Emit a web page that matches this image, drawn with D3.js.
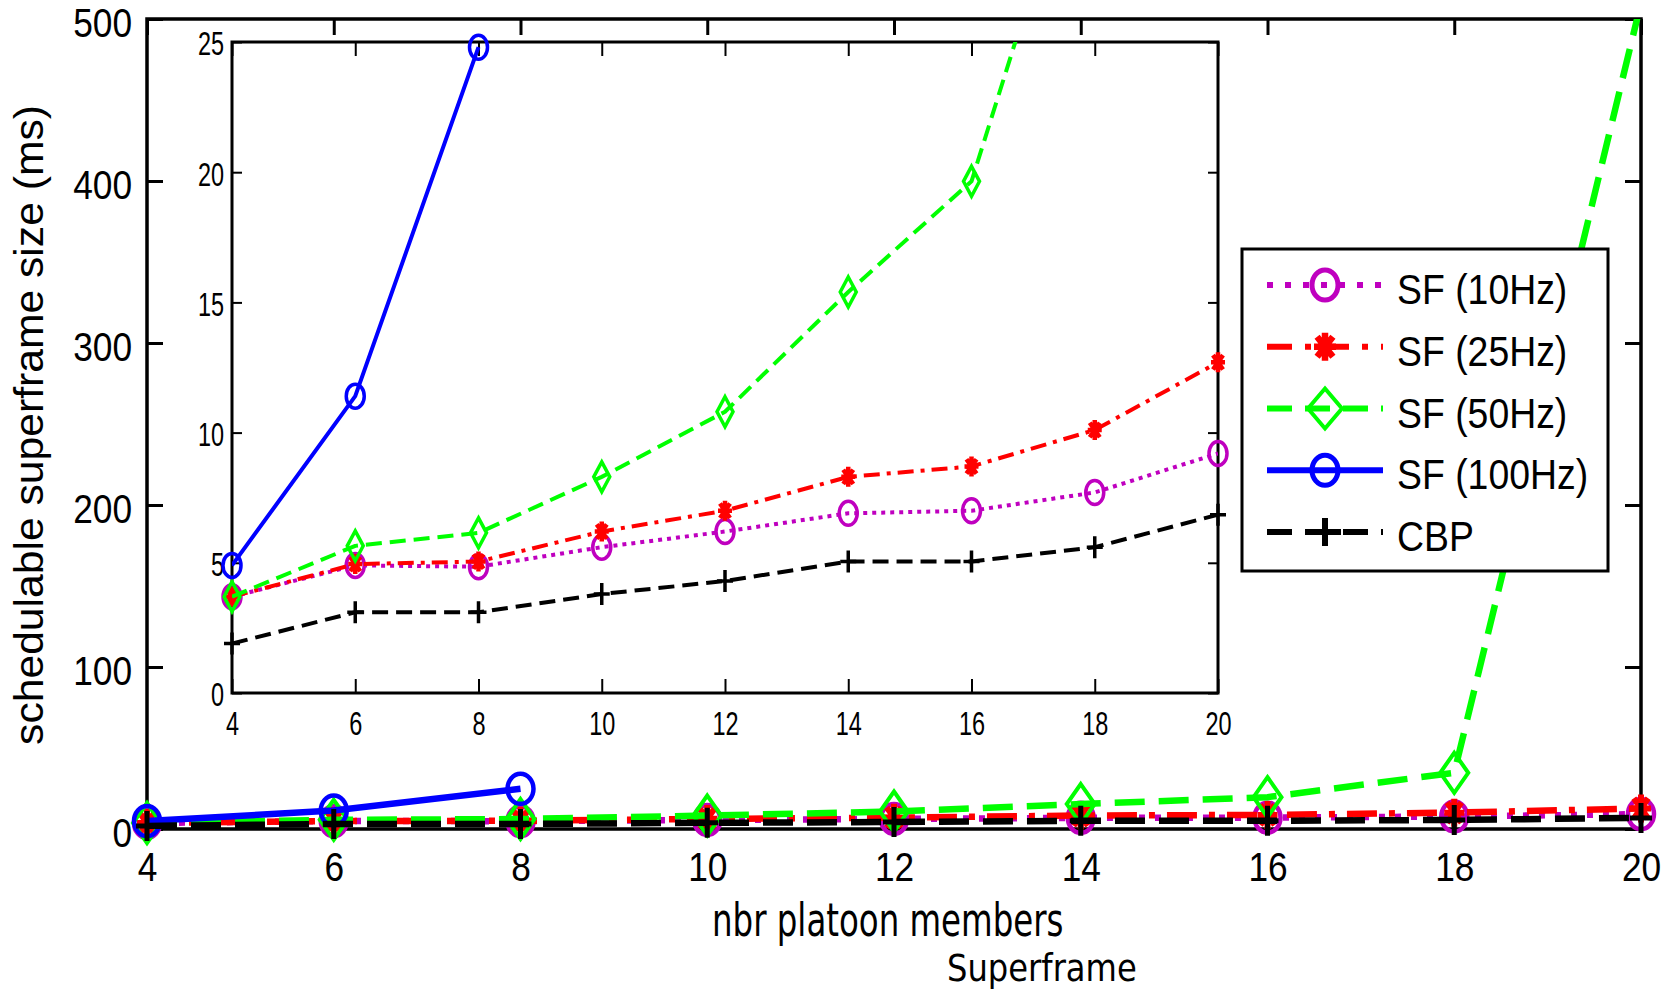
<!DOCTYPE html>
<html>
<head>
<meta charset="utf-8">
<script src="https://cdn.jsdelivr.net/npm/d3@7"></script>
<style>
  body { margin: 0; background: #fff; }
  svg { display: block; }
</style>
</head>
<body>
<div id="graph"></div>
<script>

//----------------------------------------------------------
// data (ms)

var g_members = [4, 6, 8, 10, 12, 14, 16, 18, 20];

var g_sf10  = [3.7, 4.9, 4.85, 5.6, 6.2, 6.9, 7.0, 7.7, 9.2];
var g_sf25  = [3.7, 4.95, 5.05, 6.2, 7.0, 8.3, 8.7, 10.1, 12.7];
var g_sf50  = [3.7, 5.65, 6.15, 8.3, 10.8, 15.4, 19.65, 34.7, 510];
var g_sf100 = [4.9, 11.4, 24.8];
var g_cbp   = [1.9, 3.1, 3.1, 3.8, 4.3, 5.05, 5.05, 5.6, 6.85];

var g_labels = ["SF (10Hz)", "SF (25Hz)", "SF (50Hz)", "SF (100Hz)", "CBP"];

var g_main_yticks = [0, 100, 200, 300, 400, 500];
var g_inset_yticks = [0, 5, 10, 15, 20, 25];
var g_xticks = [4, 6, 8, 10, 12, 14, 16, 18, 20];


//----------------------------------------------------------
// series styles: dashes for main plot, inset and legend

var g_series = [
    { values: g_sf10, colour: "#bf00bf", marker: "circle",
      dash: { main: "6,10", inset: "4,5", legend: "6,12" } },
    { values: g_sf25, colour: "#ff0000", marker: "star",
      dash: { main: "30,12,6,12", inset: "16,7,4,7", legend: "25,13,6,13" } },
    { values: g_sf50, colour: "#00ff00", marker: "diamond",
      dash: { main: "30,14", inset: "16,8", legend: "25,13" } },
    { values: g_sf100, colour: "#0000ff", marker: "circle",
      dash: { main: null, inset: null, legend: null } },
    { values: g_cbp, colour: "#000000", marker: "plus",
      dash: { main: "30,14", inset: "16,8", legend: "25,13" } }
];

var g_marker_size = {
    main:   { circle: [13, 15, 4.5], diamond: [14, 20, 4], plus: [11, 15, 5], star: [10, 14, 6] },
    inset:  { circle: [9, 12, 3.5], diamond: [8, 15, 3.5], plus: [8, 11, 3.5], star: [7, 10, 4.5] },
    legend: { circle: [13, 15, 5], diamond: [17, 20, 4], plus: [16, 14, 6], star: [11, 14, 6.5] }
};

var g_svg = d3.select("#graph")
  .append("svg")
    .attr("width", 1671)
    .attr("height", 991);

var g_defs = g_svg.append("defs");


//----------------------------------------------------------
function Squeeze(sel, factor) {
    sel.each(function () {
        var len = this.getComputedTextLength();
        d3.select(this)
            .attr("textLength", len * factor)
            .attr("lengthAdjust", "spacingAndGlyphs");
    });
}


function MarkerPath(kind, hw, hh) {
    if (kind === "diamond")
        return "M0," + (-hh) + "L" + hw + ",0L0," + hh + "L" + (-hw) + ",0Z";
    if (kind === "plus")
        return "M" + (-hw) + ",0H" + hw + "M0," + (-hh) + "V" + hh;
    // asterisk
    var dx = hw * 0.72, dy = hh * 0.72;
    return "M" + (-hw) + ",0H" + hw + "M0," + (-hh) + "V" + hh +
        "M" + (-dx) + "," + (-dy) + "L" + dx + "," + dy +
        "M" + (-dx) + "," + dy + "L" + dx + "," + (-dy);
}


function DrawMarker(g, kind, size, colour, x, y) {
    var s = size[kind];
    if (kind === "circle") {
        g.append("ellipse")
            .attr("cx", x).attr("cy", y)
            .attr("rx", s[0]).attr("ry", s[1])
            .attr("fill", "none")
            .attr("stroke", colour)
            .attr("stroke-width", s[2]);
    } else {
        g.append("path")
            .attr("transform", "translate(" + x + "," + y + ")")
            .attr("d", MarkerPath(kind, s[0], s[1]))
            .attr("fill", "none")
            .attr("stroke", colour)
            .attr("stroke-width", s[2])
            .attr("stroke-linejoin", "miter");
    }
}


//----------------------------------------------------------
// one set of axes (main figure or inset)

function DrawPlot(opt) {
    var x = d3.scaleLinear([4, 20], [opt.left, opt.right]);
    var y = d3.scaleLinear(opt.ydomain, [opt.bottom, opt.top]);
    var g = g_svg.append("g");

    if (opt.fill)
        g.append("rect")
            .attr("x", opt.left).attr("y", opt.top)
            .attr("width", opt.right - opt.left)
            .attr("height", opt.bottom - opt.top)
            .attr("fill", "#fff");

    g_defs.append("clipPath")
        .attr("id", opt.name + "-clip")
      .append("rect")
        .attr("x", opt.left).attr("y", opt.top)
        .attr("width", opt.right - opt.left)
        .attr("height", opt.bottom - opt.top);

    // axes with inward ticks on all four sides
    var ax = g.append("g")
        .attr("font-family", "'Liberation Sans', Arial, sans-serif");

    var left = ax.append("g")
        .attr("transform", "translate(" + opt.left + ",0)")
        .call(d3.axisLeft(y).tickValues(opt.yticks).tickSizeInner(-opt.ytick)
            .tickSizeOuter(0).tickPadding(opt.ypad).tickFormat(d3.format("d")));
    var bottom = ax.append("g")
        .attr("transform", "translate(0," + opt.bottom + ")")
        .call(d3.axisBottom(x).tickValues(g_xticks).tickSizeInner(-opt.xtick)
            .tickSizeOuter(0).tickPadding(opt.xpad).tickFormat(d3.format("d")));
    ax.append("g")
        .attr("transform", "translate(" + opt.right + ",0)")
        .call(d3.axisRight(y).tickValues(opt.yticks).tickSizeInner(-opt.ytick)
            .tickSizeOuter(0).tickFormat(""));
    ax.append("g")
        .attr("transform", "translate(0," + opt.top + ")")
        .call(d3.axisTop(x).tickValues(g_xticks).tickSizeInner(-opt.xtick)
            .tickSizeOuter(0).tickFormat(""));

    ax.selectAll(".domain").remove();
    ax.selectAll(".tick line")
        .attr("stroke", "#000")
        .attr("stroke-width", opt.tickw);
    ax.selectAll(".tick text")
        .attr("fill", "#000")
        .attr("font-size", opt.font);
    left.selectAll(".tick text")
        .attr("dy", opt.ydy);
    Squeeze(left.selectAll(".tick text"), opt.squeeze);
    Squeeze(bottom.selectAll(".tick text"), opt.squeeze);

    ax.append("rect")
        .attr("x", opt.left).attr("y", opt.top)
        .attr("width", opt.right - opt.left)
        .attr("height", opt.bottom - opt.top)
        .attr("fill", "none")
        .attr("stroke", "#000")
        .attr("stroke-width", opt.boxw);

    // series
    g_series.forEach(function (s) {
        var pts = s.values.map(function (v, i) {
            return { x: g_members[i], y: v };
        });

        g.append("path")
            .datum(pts)
            .attr("clip-path", "url(#" + opt.name + "-clip)")
            .attr("d", d3.line()
                .x(function (d) { return x(d.x); })
                .y(function (d) { return y(d.y); }))
            .attr("fill", "none")
            .attr("stroke", s.colour)
            .attr("stroke-width", opt.linew)
            .attr("stroke-dasharray", s.dash[opt.name])
            .attr("stroke-linejoin", "round");

        var mg = g.append("g");
        pts.forEach(function (p) {
            if (p.y > opt.ydomain[1])
                return;
            DrawMarker(mg, s.marker, g_marker_size[opt.name], s.colour, x(p.x), y(p.y));
        });
    });
}


//----------------------------------------------------------
function DrawLegend() {
    var lx = 1242, ly = 249, lw = 366, lh = 322;
    var g = g_svg.append("g");

    g.append("rect")
        .attr("x", lx).attr("y", ly)
        .attr("width", lw).attr("height", lh)
        .attr("fill", "#fff")
        .attr("stroke", "#000")
        .attr("stroke-width", 3);

    g_series.forEach(function (s, i) {
        var cy = ly + 36 + i * 61.75;

        g.append("line")
            .attr("x1", lx + 25).attr("x2", lx + 141)
            .attr("y1", cy).attr("y2", cy)
            .attr("stroke", s.colour)
            .attr("stroke-width", 6)
            .attr("stroke-dasharray", s.dash.legend);

        DrawMarker(g, s.marker, g_marker_size.legend, s.colour, lx + 83, cy);

        var t = g.append("text")
            .attr("x", lx + 155)
            .attr("y", cy + 19)
            .attr("font-family", "'Liberation Sans', Arial, sans-serif")
            .attr("font-size", 42)
            .attr("fill", "#000")
            .text(g_labels[i]);
        Squeeze(t, 0.89);
    });
}


//----------------------------------------------------------
function DrawTitles() {
    var yl = g_svg.append("text")
        .attr("transform", "translate(43,425) rotate(-90)")
        .attr("text-anchor", "middle")
        .attr("font-family", "'Liberation Sans', Arial, sans-serif")
        .attr("font-size", 41)
        .text("schedulable superframe size (ms)");
    Squeeze(yl, 1.04);

    var xl = g_svg.append("text")
        .attr("x", 712).attr("y", 936)
        .attr("font-family", "'DejaVu Sans', sans-serif")
        .attr("font-size", 47)
        .text("nbr platoon members");
    Squeeze(xl, 0.69);

    var sub = g_svg.append("text")
        .attr("x", 947).attr("y", 981)
        .attr("font-family", "'DejaVu Sans', sans-serif")
        .attr("font-size", 37)
        .text("Superframe");
    Squeeze(sub, 0.87);
}


//----------------------------------------------------------

DrawPlot({
    name: "main", left: 147, right: 1641, top: 19, bottom: 829,
    ydomain: [0, 500], yticks: g_main_yticks,
    ytick: 16, xtick: 16, ypad: 15, xpad: 23, tickw: 3, ydy: "0.42em",
    font: 41, squeeze: 0.86, boxw: 3.5, linew: 6.5, fill: false
});

DrawPlot({
    name: "inset", left: 232, right: 1218, top: 42, bottom: 693,
    ydomain: [0, 25], yticks: g_inset_yticks,
    ytick: 10, xtick: 14, ypad: 8, xpad: 18, tickw: 2, ydy: "0.38em",
    font: 34, squeeze: 0.69, boxw: 3, linew: 4, fill: true
});

DrawLegend();
DrawTitles();

</script>
</body>
</html>
